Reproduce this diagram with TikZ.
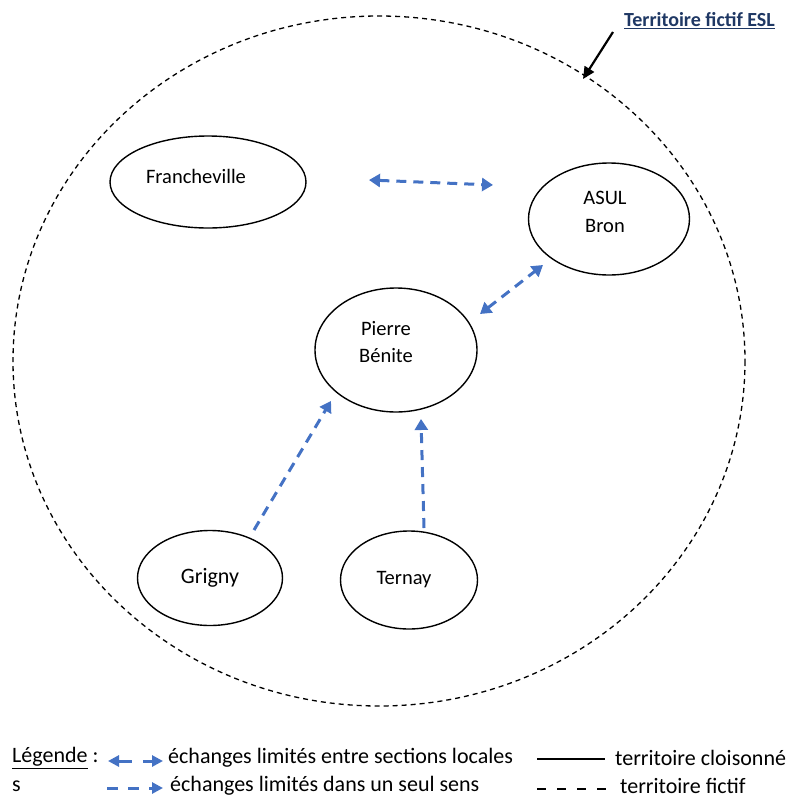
\documentclass[tikz,border=0pt]{standalone}
\usepackage{fontspec}
\setmainfont{Carlito}
\usetikzlibrary{arrows.meta,shapes.geometric}
\definecolor{arrblue}{HTML}{4472C4}
\definecolor{titleblue}{HTML}{1F3864}
\tikzset{
  site/.style={draw=black, line width=1.4pt, ellipse, inner sep=0pt},
  lab/.style={font=\fontsize{20.5}{28}\selectfont, align=center, inner sep=0pt},
  blu/.style={draw=arrblue, line width=3pt, dash pattern=on 10pt off 7pt, -{Triangle[length=11pt,width=13pt]}},
  blub/.style={blu, {Triangle[length=11pt,width=13pt]}-{Triangle[length=11pt,width=13pt]}},
  leg/.style={font=\fontsize{22}{26}\selectfont, anchor=west, inner sep=0pt},
}
\begin{document}
\begin{tikzpicture}[x=1pt,y=-1pt]
\useasboundingbox (0,0) rectangle (785,798);
% territory
\draw[line width=1.3pt, dash pattern=on 5pt off 4pt] (379,361) ellipse [x radius=366, y radius=345];
% sites
\node[site, minimum width=196pt, minimum height=92pt] (fra) at (208,182) {};
\node[site, minimum width=161pt, minimum height=112pt] (bro) at (609,219) {};
\node[site, minimum width=162pt, minimum height=124pt] (pie) at (396,350) {};
\node[site, minimum width=145pt, minimum height=95pt] (gri) at (210,578) {};
\node[site, minimum width=137pt, minimum height=98pt] (ter) at (409,580) {};
\node[lab] (fral) at (196,176) {Francheville};
\node[lab] (brol) at (605,212) {ASUL\\Bron};
\node[lab, font=\fontsize{20.5}{27}\selectfont] (piel) at (386,342) {Pierre\\Bénite};
\node[lab, font=\fontsize{22}{26}\selectfont] (gril) at (210,578) {Grigny};
\node[lab] (terl) at (404,580) {Ternay};
% arrows
\coordinate (a1) at (369,180); \coordinate (a2) at (493,185);
\draw[blub] (a1) -- (a2);
\coordinate (b1) at (480,314); \coordinate (b2) at (543,265);
\draw[blub] (b1) -- (b2);
\coordinate (c1) at (254,530); \coordinate (c2) at (331,401);
\draw[blu] (c1) -- (c2);
\coordinate (d1) at (424,528); \coordinate (d2) at (421,419);
\draw[blu] (d1) -- (d2);
% title
\node[font=\bfseries\fontsize{20}{24}\selectfont, text=titleblue, anchor=west, inner sep=0pt] (title) at (624,21) {\underline{Territoire fictif ESL}};
\coordinate (t1) at (613,32); \coordinate (t2) at (583,79);
\draw[line width=2.2pt, -{Triangle[length=12pt,width=11pt]}] (t1) -- (t2);
% legend
\node[leg] (lg) at (12,758) {\underline{Légende} :};
\coordinate (l1) at (108,761); \coordinate (l2) at (163,761);
\draw[blub, dash pattern=on 14pt off 11pt, {Triangle[length=11pt,width=11pt]}-{Triangle[length=11pt,width=11pt]}] (l1) -- (l2);
\node[leg] (l1t) at (168,758) {échanges limités entre sections locales};
\node[leg] (ls) at (12,786) {s};
\coordinate (m1) at (107,788); \coordinate (m2) at (163,788);
\draw[blu, dash pattern=on 11pt off 10pt, -{Triangle[length=11pt,width=11pt]}] (m1) -- (m2);
\node[leg] (l2t) at (170,786) {échanges limités dans un seul sens};
\coordinate (n1) at (537,759); \coordinate (n2) at (605,759);
\draw[line width=2.2pt] (n1) -- (n2);
\node[leg] (l3t) at (615,758) {territoire cloisonné};
\coordinate (o1) at (537,789); \coordinate (o2) at (613,789);
\draw[line width=2.4pt, dash pattern=on 9pt off 11pt] (o1) -- (o2);
\node[leg] (l4t) at (620,786) {territoire fictif};
\end{tikzpicture}
\end{document}
